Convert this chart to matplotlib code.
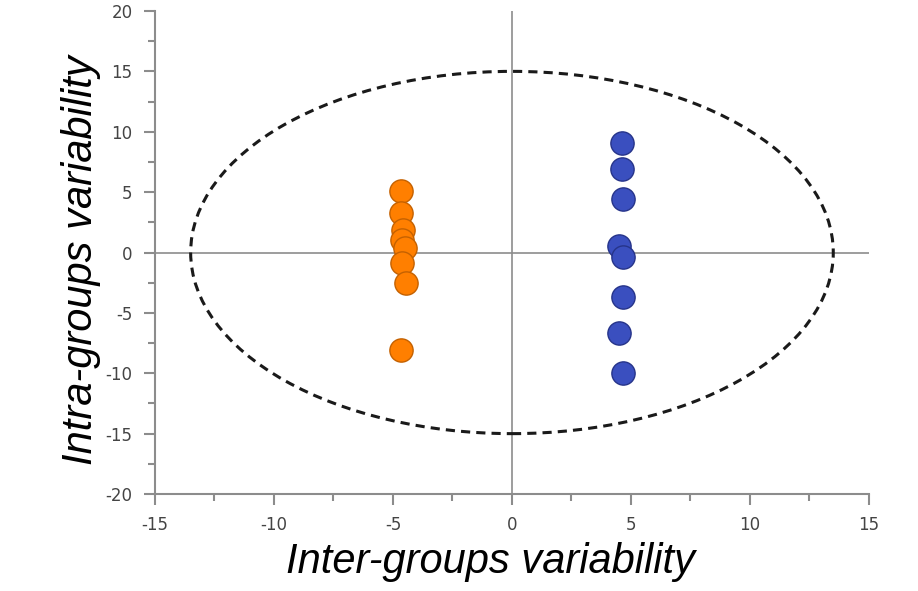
import matplotlib.pyplot as plt
from matplotlib.patches import Ellipse
from matplotlib.ticker import MultipleLocator

plt.rcParams['axes.unicode_minus'] = False

# group A (orange) and group B (blue) scores
orange_x = [-4.68, -4.66, -4.57, -4.6, -4.5, -4.6, -4.47, -4.66]
orange_y = [5.1, 3.3, 1.9, 1.0, 0.35, -0.9, -2.55, -8.05]
blue_x = [4.61, 4.61, 4.68, 4.51, 4.65, 4.68, 4.51, 4.68]
blue_y = [9.1, 6.9, 4.4, 0.5, -0.35, -3.65, -6.7, -10.0]

ellipse_w = 27
ellipse_h = 30

fig = plt.figure(figsize=(9.18, 5.91), dpi=100)
ax = fig.add_axes([0.1688, 0.1641, 0.7778, 0.8173])

ax.axhline(0, color='#8c8c8c', lw=1.2, zorder=1)
ax.axvline(0, color='#8c8c8c', lw=1.2, zorder=1)

ax.add_patch(Ellipse((0, 0), ellipse_w, ellipse_h, fill=False, ls=(0, (3, 2)),
                     lw=2.2, ec='#1a1a1a', zorder=2))

ax.scatter(orange_x, orange_y, s=280, c='#ff7f00', edgecolors='#c46100', lw=1, zorder=3)
ax.scatter(blue_x, blue_y, s=280, c='#3a4fbf', edgecolors='#26348a', lw=1, zorder=3)

ax.set_xlim(-15, 15)
ax.set_ylim(-20, 20)
ax.xaxis.set_major_locator(MultipleLocator(5))
ax.yaxis.set_major_locator(MultipleLocator(5))
ax.xaxis.set_minor_locator(MultipleLocator(2.5))
ax.yaxis.set_minor_locator(MultipleLocator(2.5))

for s in ['top', 'right']:
    ax.spines[s].set_visible(False)
for s in ['left', 'bottom']:
    ax.spines[s].set_color('#8c8c8c')
    ax.spines[s].set_linewidth(1.5)

ax.tick_params(which='major', length=8, width=1.5, color='#8c8c8c',
               labelsize=12, labelcolor='#444444', pad=8)
ax.tick_params(which='minor', length=5, width=1.5, color='#8c8c8c')

ax.set_xlabel('Inter-groups variability', fontsize=30, style='italic',
              family='Liberation Sans')
ax.set_ylabel('Intra-groups variability', fontsize=30, style='italic',
              family='Liberation Sans')
ax.xaxis.set_label_coords(0.47, -0.1)
ax.yaxis.set_label_coords(-0.075, 0.485)

fig.savefig('out.png', dpi=100)
